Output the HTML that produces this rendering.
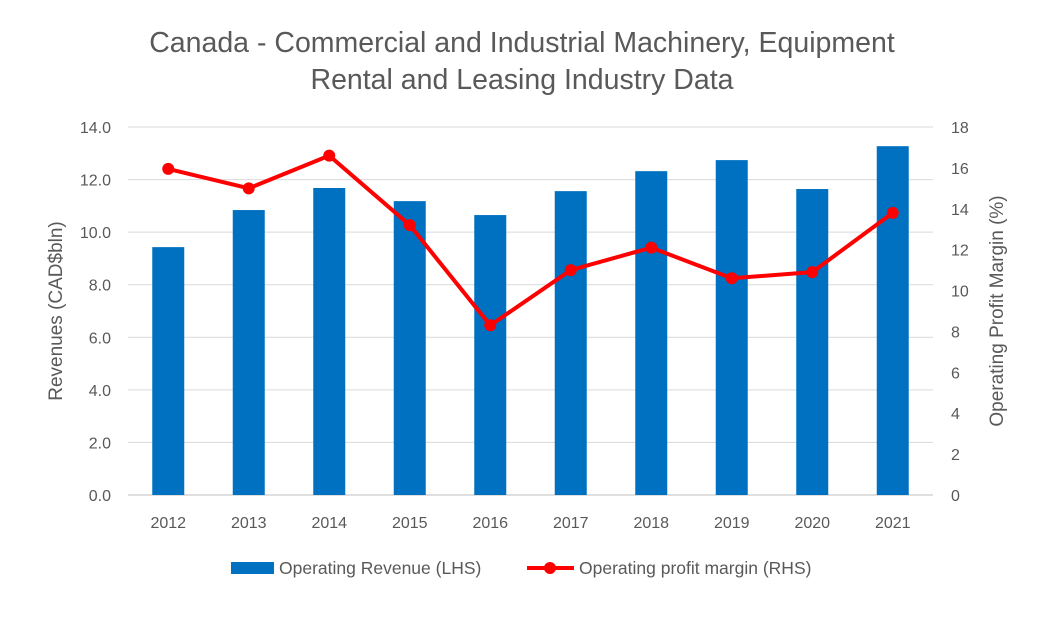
<!DOCTYPE html>
<html><head><meta charset="utf-8">
<style>
body{margin:0;background:#fff;}
svg text{font-family:"Liberation Sans",Calibri,sans-serif;fill:#595959;}
</style></head>
<body>
<svg width="1043" height="626" viewBox="0 0 1043 626">
<rect width="1043" height="626" fill="#fff"/>
<text x="522" y="52" text-anchor="middle" font-size="28.5">Canada - Commercial and Industrial Machinery, Equipment</text>
<text x="522" y="89" text-anchor="middle" font-size="28.5">Rental and Leasing Industry Data</text>
<g id="grid"></g>
<g id="bars"></g>
<g id="line"></g>
<g id="axes"></g>
<text transform="translate(62,311) rotate(-90)" text-anchor="middle" font-size="19">Revenues (CAD$bln)</text>
<text transform="translate(1003,311) rotate(-90)" text-anchor="middle" font-size="19">Operating Profit Margin (%)</text>
<g>
<rect x="231" y="562" width="43" height="12" fill="#0070c0"/>
<text x="279" y="574" font-size="17.5">Operating Revenue (LHS)</text>
<line x1="527" y1="568" x2="574" y2="568" stroke="#ff0000" stroke-width="4"/>
<circle cx="550" cy="568" r="6" fill="#ff0000"/>
<text x="579" y="574" font-size="17.5">Operating profit margin (RHS)</text>
</g>
</svg>
<script>
const categories=["2012","2013","2014","2015","2016","2017","2018","2019","2020","2021"];
const revenue=[9.43,10.84,11.68,11.18,10.65,11.56,12.32,12.74,11.64,13.27];
const margin=[15.95,15.0,16.6,13.2,8.3,11.0,12.1,10.6,10.9,13.8];
const leftTicks=["0.0","2.0","4.0","6.0","8.0","10.0","12.0","14.0"];
const rightTicks=["0","2","4","6","8","10","12","14","16","18"];
const NS="http://www.w3.org/2000/svg";
const x0=128,x1=933,yB=495,yT=127;
const yL=v=>yB-(v/14)*(yB-yT);
const yR=v=>yB-(v/18)*(yB-yT);
const step=(x1-x0)/categories.length;
const xC=i=>x0+step*(i+0.5);
function mk(tag,attrs,parent){const e=document.createElementNS(NS,tag);for(const k in attrs)e.setAttribute(k,attrs[k]);parent.appendChild(e);return e;}
const grid=document.getElementById('grid'),bars=document.getElementById('bars'),line=document.getElementById('line'),axes=document.getElementById('axes');
leftTicks.forEach(t=>{const y=yL(parseFloat(t));
 const g=mk('line',{x1:x0,x2:x1,y1:y,y2:y,stroke:parseFloat(t)===0?'#bfbfbf':'#d9d9d9','stroke-width':1},grid);
 
 
 const tx=mk('text',{x:111,y:y+6,'text-anchor':'end','font-size':16},axes);tx.textContent=t;
 
 
});
rightTicks.forEach(t=>{const y=yR(parseFloat(t));
 const tx=mk('text',{x:951,y:y+6,'text-anchor':'start','font-size':16},axes);tx.textContent=t;
 
 
});
categories.forEach((c,i)=>{
 const r=mk('rect',{x:xC(i)-16,y:yL(revenue[i]),width:32,height:yB-yL(revenue[i]),fill:'#0070c0'},bars);
 
 
 const tx=mk('text',{x:xC(i),y:528,'text-anchor':'middle','font-size':16},axes);tx.textContent=c;
 
 
});
const p=mk('polyline',{points:margin.map((v,i)=>xC(i)+','+yR(v)).join(' '),fill:'none',stroke:'#ff0000','stroke-width':4,'stroke-linejoin':'round'},line);


margin.forEach((v,i)=>{const c=mk('circle',{cx:xC(i),cy:yR(v),r:6,fill:'#ff0000'},line);
 
 
});
</script>
</body></html>
